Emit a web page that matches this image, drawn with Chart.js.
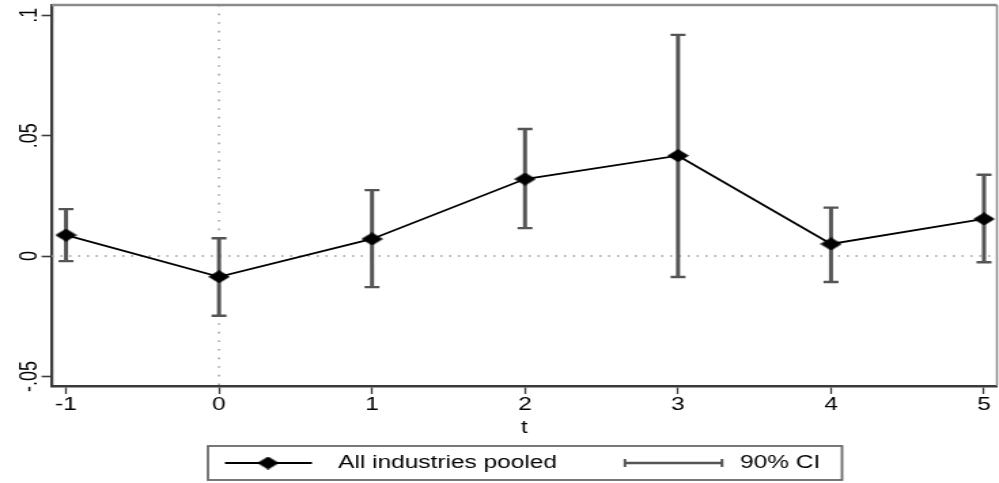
<!DOCTYPE html>
<html><head><meta charset="utf-8">
<script src="https://cdn.jsdelivr.net/npm/chart.js@4"></script>
<style>
html,body{margin:0;padding:0;background:#fff;overflow:hidden}
#wrap{position:relative;width:735px;height:483px;transform:scale(1.35918,1);transform-origin:0 0;}
</style></head><body>
<div id="wrap"><canvas id="c"></canvas></div>
<script>
// ---- data ----
const periods = [-1, 0, 1, 2, 3, 4, 5];
const coef    = [0.0087, -0.0086, 0.0071, 0.0320, 0.0417, 0.0050, 0.0154];
const ciLow   = [-0.0021, -0.0248, -0.0129, 0.0116, -0.0087, -0.0108, -0.0026];
const ciHigh  = [0.0195, 0.0074, 0.0274, 0.0528, 0.0919, 0.0201, 0.0338];
const xTicks = [-1, 0, 1, 2, 3, 4, 5];
const xTickLabels = ['-1', '0', '1', '2', '3', '4', '5'];
const yTicks = [-0.05, 0, 0.05, 0.1];
const yTickLabels = ['-.05', '0', '.05', '.1'];
const seriesLabel = 'All industries pooled';
const ciLabel = '90% CI';
const xTitle = 't';

const FONT = '"Liberation Sans", Arial, Helvetica, sans-serif';
const FS = 18;
const AXIS = '#3a3a3a';
const BARC = '#555555';

function makeDiamond(w, h) {
  const c = document.createElement('canvas');
  c.width = w; c.height = h;
  const g = c.getContext('2d');
  g.fillStyle = '#000';
  g.beginPath();
  g.moveTo(w / 2, 0); g.lineTo(w, h / 2); g.lineTo(w / 2, h); g.lineTo(0, h / 2);
  g.closePath(); g.fill();
  return c;
}
const diamond = makeDiamond(16, 13);

const decor = {
  id: 'decor',
  beforeDatasetsDraw(chart) {
    const {ctx, chartArea: a, scales: {x, y}} = chart;
    ctx.save();
    // dotted reference lines
    ctx.strokeStyle = '#9a9a9a';
    ctx.lineWidth = 1.4;
    ctx.setLineDash([1.5, 5]);
    const x0 = x.getPixelForValue(0), y0 = y.getPixelForValue(0);
    ctx.beginPath(); ctx.moveTo(a.left, y0); ctx.lineTo(a.right, y0); ctx.stroke();
    ctx.setLineDash([1.6, 7]);
    ctx.beginPath(); ctx.moveTo(x0, a.top); ctx.lineTo(x0, a.bottom); ctx.stroke();
    ctx.setLineDash([]);
    // error bars
    ctx.strokeStyle = BARC;
    for (let i = 0; i < periods.length; i++) {
      const px = x.getPixelForValue(periods[i]);
      const yl = y.getPixelForValue(ciLow[i]);
      const yh = y.getPixelForValue(ciHigh[i]);
      ctx.lineWidth = 3;
      ctx.beginPath(); ctx.moveTo(px, yh); ctx.lineTo(px, yl); ctx.stroke();
      ctx.lineWidth = 2.4;
      ctx.beginPath();
      ctx.moveTo(px - 5.5, yh); ctx.lineTo(px + 5.5, yh);
      ctx.moveTo(px - 5.5, yl); ctx.lineTo(px + 5.5, yl);
      ctx.stroke();
    }
    ctx.restore();
  },
  afterDraw(chart) {
    const {ctx, chartArea: a, scales: {x, y}} = chart;
    ctx.save();
    // frame top / right
    ctx.strokeStyle = '#8a8a8a';
    ctx.lineWidth = 2.4;
    ctx.beginPath(); ctx.moveTo(a.left, a.top); ctx.lineTo(a.right, a.top); ctx.stroke();
    ctx.lineWidth = 1.5;
    ctx.beginPath(); ctx.moveTo(a.right, a.top); ctx.lineTo(a.right, a.bottom); ctx.stroke();
    ctx.fillStyle = '#000';
    ctx.font = FS + 'px ' + FONT;
    ctx.textAlign = 'center';
    ctx.textBaseline = 'middle';
    // x tick labels
    xTicks.forEach((v, i) => {
      ctx.fillText(xTickLabels[i], x.getPixelForValue(v), a.bottom + 19.5);
    });
    // rotated y tick labels
    yTicks.forEach((v, i) => {
      const py = y.getPixelForValue(v);
      ctx.save();
      ctx.translate(22.1, py);
      ctx.rotate(-Math.PI / 2);
      ctx.fillText(yTickLabels[i], 0, 0);
      ctx.restore();
    });
    // legend
    const bx = 153.0, by = 446, bw = 466.5, bh = 34, my = by + bh / 2;
    ctx.strokeStyle = '#6a6a6a';
    ctx.lineWidth = 1.8;
    ctx.strokeRect(bx, by, bw, bh);
    ctx.strokeStyle = '#000';
    ctx.lineWidth = 1.8;
    ctx.beginPath(); ctx.moveTo(165.5, my); ctx.lineTo(229.5, my); ctx.stroke();
    ctx.drawImage(diamond, 197.2 - 8, my - 6.5);
    ctx.textAlign = 'left';
    ctx.fillText(seriesLabel, 248.7, my);
    ctx.strokeStyle = BARC;
    ctx.lineWidth = 2.4;
    ctx.beginPath();
    ctx.moveTo(459.8, my); ctx.lineTo(531.2, my);
    ctx.stroke();
    ctx.lineWidth = 2;
    ctx.beginPath();
    ctx.moveTo(459.8, my - 4); ctx.lineTo(459.8, my + 4);
    ctx.moveTo(531.2, my - 4); ctx.lineTo(531.2, my + 4);
    ctx.stroke();
    ctx.fillText(ciLabel, 544.4, my);
    ctx.restore();
  }
};

new Chart(document.getElementById('c'), {
  type: 'line',
  data: {
    datasets: [{
      label: seriesLabel,
      data: periods.map((p, i) => ({x: p, y: coef[i]})),
      borderColor: '#000',
      backgroundColor: '#000',
      borderWidth: 1.8,
      pointStyle: diamond,
      pointRadius: 8,
      pointHoverRadius: 8,
      fill: false,
      tension: 0,
      clip: false
    }]
  },
  options: {
    responsive: true,
    maintainAspectRatio: false,
    animation: false,
    events: [],
    layout: {autoPadding: false, padding: {left: 0, top: 5, right: 1.5, bottom: 44.2}},
    plugins: {legend: {display: false}, tooltip: {enabled: false}},
    scales: {
      x: {
        type: 'linear',
        min: -1.0938, max: 5.0847,
        afterBuildTicks: s => { s.ticks = xTicks.map(v => ({value: v})); },
        afterFit: s => { s.height = 52.8; s.paddingLeft = 0; s.paddingRight = 0; },
        ticks: {display: false},
        grid: {drawOnChartArea: false, drawTicks: true, tickLength: 8, tickWidth: 1.3, tickColor: AXIS},
        border: {display: true, color: AXIS, width: 2.5},
        title: {display: true, text: xTitle, font: {family: FONT, size: FS}, color: '#000', padding: 0}
      },
      y: {
        type: 'linear',
        min: -0.054, max: 0.1043,
        afterBuildTicks: s => { s.ticks = yTicks.map(v => ({value: v})); },
        afterFit: s => { s.width = 38.0; s.paddingTop = 0; s.paddingBottom = 0; },
        ticks: {display: false},
        grid: {drawOnChartArea: false, drawTicks: true, tickLength: 7.4, tickWidth: 1.6, tickColor: AXIS},
        border: {display: true, color: AXIS, width: 2.2}
      }
    }
  },
  plugins: [decor]
});
</script>
</body></html>
